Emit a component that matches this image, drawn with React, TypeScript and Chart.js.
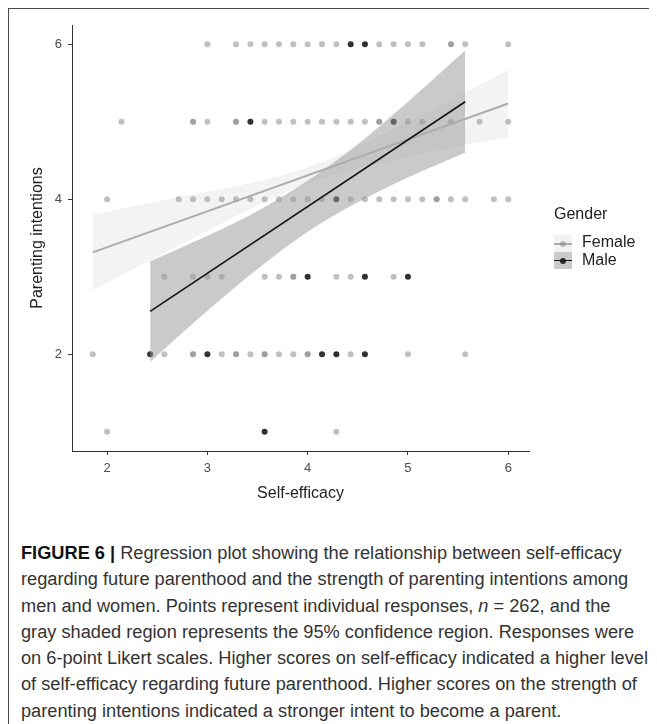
import React, { useEffect, useLayoutEffect, useRef, useState } from 'react';
import { Chart, registerables } from 'chart.js';

Chart.register(...registerables);

// ---------- data ----------
const xTicks = [2, 3, 4, 5, 6];
const yTicks = [2, 4, 6];

// Female responses: self-efficacy scores at each parenting-intentions level
// (repeated values = overlapping responses)
const femaleAt6 = [3, 3.286, 3.429, 3.571, 3.714, 3.857, 4, 4.143, 4.286, 4.714, 4.857, 5, 5.143, 5.429, 5.429, 5.571, 6];
const femaleAt5 = [2.143, 2.857, 2.857, 3, 3.286, 3.286, 3.571, 3.714, 3.857, 4, 4.143, 4.286, 4.429, 4.571, 4.714, 4.714, 4.857, 5, 5.143, 5.429, 5.714, 6];
const femaleAt4 = [2, 2.714, 2.857, 3, 3.143, 3.286, 3.429, 3.571, 3.714, 3.857, 4, 4.143, 4.429, 4.571, 4.714, 4.857, 5, 5.143, 5.286, 5.286, 5.429, 5.571, 5.857, 6];
const femaleAt3 = [2.571, 2.857, 3, 3.143, 3.571, 3.714, 3.857, 3.857, 4.286, 4.429, 4.857];
const femaleAt2 = [1.857, 2.571, 2.857, 2.857, 3.143, 3.286, 3.286, 3.429, 3.571, 3.571, 3.714, 3.857, 4, 4, 4.429, 5, 5.571];
const femaleAt1 = [2, 4.286];

// Male responses
const maleAt6 = [4.429, 4.571];
const maleAt5 = [3.429, 4.857];
const maleAt4 = [4.286];
const maleAt3 = [4, 4.571, 5];
const maleAt2 = [2.429, 3, 4.143, 4.286, 4.571];
const maleAt1 = [3.571];

// Regression lines
const femaleFitX = [1.857, 6];
const femaleFitY = [3.315, 5.237];
const maleFitX = [2.429, 5.571];
const maleFitY = [2.552, 5.259];

// 95% confidence bands
const femaleBandX = [1.857, 2.5, 3, 3.5, 4, 4.5, 5, 5.5, 6];
const femaleBandUpper = [3.8, 3.97, 4.1, 4.23, 4.41, 4.68, 5.0, 5.33, 5.67];
const femaleBandLower = [2.83, 3.26, 3.59, 3.92, 4.21, 4.4, 4.55, 4.68, 4.8];
const maleBandX = [2.429, 3, 3.5, 4, 4.5, 5, 5.571];
const maleBandUpper = [3.2, 3.53, 3.85, 4.24, 4.71, 5.26, 5.92];
const maleBandLower = [1.9, 2.56, 3.1, 3.58, 3.96, 4.28, 4.6];

const legendLabels = ['Female', 'Male'];

const captionLines: { bold?: string; parts: (string | { i: string })[] }[] = [
  { bold: 'FIGURE 6 |', parts: [' Regression plot showing the relationship between self-efficacy'] },
  { parts: ['regarding future parenthood and the strength of parenting intentions among'] },
  { parts: ['men and women. Points represent individual responses, ', { i: 'n' }, ' = 262, and the'] },
  { parts: ['gray shaded region represents the 95% confidence region. Responses were'] },
  { parts: ['on 6-point Likert scales. Higher scores on self-efficacy indicated a higher level'] },
  { parts: ['of self-efficacy regarding future parenthood. Higher scores on the strength of'] },
  { parts: ['parenting intentions indicated a stronger intent to become a parent.'] },
];

// ---------- styles ----------
const FONT = "'Liberation Sans', Arial, Helvetica, sans-serif";
const CAP_FONT = "'Liberation Sans Narrow', 'Liberation Sans', Arial, sans-serif";
const FEMALE_PT = 'rgba(130,130,130,0.5)';
const MALE_PT = 'rgba(20,20,20,0.88)';
const FEMALE_BAND = 'rgba(153,153,153,0.12)';
const MALE_BAND = 'rgba(153,153,153,0.52)';
const FEMALE_LINE = '#acacac';
const MALE_LINE = '#141414';

const pts = (xs: number[], y: number) => xs.map((x) => ({ x, y }));
const zip = (xs: number[], ys: number[]) => xs.map((x, i) => ({ x, y: ys[i] }));

function LegendKey({ top, bg, line, lineW, dot }: { top: number; bg: string; line: string; lineW: number; dot: string }) {
  return (
    <div style={{ position: 'absolute', left: 545, top, width: 18, height: 17, background: bg }}>
      <div style={{ position: 'absolute', left: 0, right: 0, top: (17 - lineW) / 2, height: lineW, background: line }} />
      <div style={{ position: 'absolute', left: 6, top: 5.5, width: 6, height: 6, borderRadius: '50%', background: dot }} />
    </div>
  );
}

export default function App() {
  const canvasRef = useRef<HTMLCanvasElement>(null);
  const capRef = useRef<HTMLDivElement>(null);
  const [capScale, setCapScale] = useState(1);

  useLayoutEffect(() => {
    document.documentElement.style.overflow = 'hidden';
    document.body.style.overflow = 'hidden';
    const measure = () => {
      const el = capRef.current;
      if (!el) return;
      const line = el.children[4] as HTMLElement;
      const w = line.offsetWidth; // layout width, unaffected by transforms
      if (w > 0) setCapScale(627 / w);
    };
    measure();
    const fonts = (document as any).fonts;
    if (fonts && fonts.ready) fonts.ready.then(measure);
  }, []);

  useEffect(() => {
    const femalePts = [
      ...pts(femaleAt1, 1), ...pts(femaleAt2, 2), ...pts(femaleAt3, 3),
      ...pts(femaleAt4, 4), ...pts(femaleAt5, 5), ...pts(femaleAt6, 6),
    ];
    const malePts = [
      ...pts(maleAt1, 1), ...pts(maleAt2, 2), ...pts(maleAt3, 3),
      ...pts(maleAt4, 4), ...pts(maleAt5, 5), ...pts(maleAt6, 6),
    ];
    const bandCommon = {
      type: 'line' as const,
      borderWidth: 0,
      borderColor: 'rgba(0,0,0,0)',
      pointRadius: 0,
      tension: 0.4,
      cubicInterpolationMode: 'monotone' as const,
    };
    const chart = new Chart(canvasRef.current!, {
      type: 'scatter',
      data: {
        datasets: [
          { label: legendLabels[0], data: femalePts, backgroundColor: FEMALE_PT, pointRadius: 3, pointBorderWidth: 0, borderWidth: 0, order: 6 } as any,
          { label: legendLabels[1], data: malePts, backgroundColor: MALE_PT, pointRadius: 3, pointBorderWidth: 0, borderWidth: 0, order: 5 } as any,
          { ...bandCommon, data: zip(femaleBandX, femaleBandLower), fill: false, order: 4 },
          { ...bandCommon, data: zip(femaleBandX, femaleBandUpper), fill: { target: 2 }, backgroundColor: FEMALE_BAND, order: 4 },
          { ...bandCommon, data: zip(maleBandX, maleBandLower), fill: false, order: 3 },
          { ...bandCommon, data: zip(maleBandX, maleBandUpper), fill: { target: 4 }, backgroundColor: MALE_BAND, order: 3 },
          { type: 'line', data: zip(femaleFitX, femaleFitY), borderColor: FEMALE_LINE, borderWidth: 2, pointRadius: 0, fill: false, order: 2 },
          { type: 'line', data: zip(maleFitX, maleFitY), borderColor: MALE_LINE, borderWidth: 1.6, pointRadius: 0, fill: false, order: 1 },
        ] as any,
      },
      options: {
        animation: false,
        responsive: false,
        devicePixelRatio: 1,
        events: [],
        layout: { padding: { top: 16, right: 119, bottom: 18, left: 0 } },
        plugins: { legend: { display: false }, tooltip: { enabled: false } },
        scales: {
          x: {
            type: 'linear',
            min: 1.65,
            max: 6.207,
            afterBuildTicks: (axis: any) => { axis.ticks = xTicks.map((v) => ({ value: v })); },
            afterFit: (s: any) => { s.height = 60; },
            grid: { display: true, drawOnChartArea: false, drawTicks: true, tickLength: 4, color: '#333333', lineWidth: 1 },
            border: { display: true, color: '#333333', width: 1 },
            ticks: { color: '#4d4d4d', font: { family: FONT, size: 13 }, padding: 6, maxRotation: 0, autoSkip: false },
            title: { display: true, text: 'Self-efficacy', color: '#222222', font: { family: FONT, size: 16 }, padding: { top: 0, bottom: 8 } },
          },
          y: {
            type: 'linear',
            min: 0.75,
            max: 6.25,
            afterBuildTicks: (axis: any) => { axis.ticks = yTicks.map((v) => ({ value: v })); },
            afterFit: (s: any) => { s.width = 63; },
            grid: { display: true, drawOnChartArea: false, drawTicks: true, tickLength: 4, color: '#333333', lineWidth: 1 },
            border: { display: true, color: '#333333', width: 1 },
            ticks: { color: '#4d4d4d', font: { family: FONT, size: 13 }, padding: 6, autoSkip: false },
            title: { display: true, text: 'Parenting intentions', color: '#222222', font: { family: FONT, size: 16 }, padding: { top: 19, bottom: 0 } },
          },
        },
      } as any,
    });
    return () => chart.destroy();
  }, []);

  return (
    <div
      style={{
        position: 'relative',
        width: 649,
        height: 716,
        borderLeft: '1px solid #4a4a4a',
        borderTop: '1px solid #4a4a4a',
        boxSizing: 'border-box',
        overflow: 'hidden',
        background: '#ffffff',
      }}
    >
      <canvas
        ref={canvasRef}
        width={639}
        height={520}
        style={{ position: 'absolute', left: 0, top: 0, width: 639, height: 520 }}
      />
      <div style={{ position: 'absolute', left: 545, top: 196, font: `16px ${FONT}`, lineHeight: '18px', color: '#222222' }}>Gender</div>
      <LegendKey top={226} bg="#f2f2f2" line={FEMALE_LINE} lineW={2} dot={FEMALE_PT} />
      <div style={{ position: 'absolute', left: 573, top: 224, font: `16px ${FONT}`, lineHeight: '18px', color: '#222222' }}>{legendLabels[0]}</div>
      <LegendKey top={243} bg="#cacaca" line={MALE_LINE} lineW={1.6} dot={MALE_PT} />
      <div style={{ position: 'absolute', left: 573, top: 242, font: `16px ${FONT}`, lineHeight: '18px', color: '#222222' }}>{legendLabels[1]}</div>

      <div
        ref={capRef}
        style={{
          position: 'absolute',
          left: 12,
          top: 531,
          font: `18px ${CAP_FONT}`,
          lineHeight: '26.3px',
          color: '#333333',
          transform: `scaleX(${capScale})`,
          transformOrigin: 'left top',
        }}
      >
        {captionLines.map((ln, i) => (
          <div key={i} style={{ whiteSpace: 'nowrap', width: 'max-content' }}>
            {ln.bold ? <b style={{ color: '#111111' }}>{ln.bold}</b> : null}
            {ln.parts.map((p, j) => (typeof p === 'string' ? <span key={j}>{p}</span> : <i key={j}>{p.i}</i>))}
          </div>
        ))}
      </div>
    </div>
  );
}
